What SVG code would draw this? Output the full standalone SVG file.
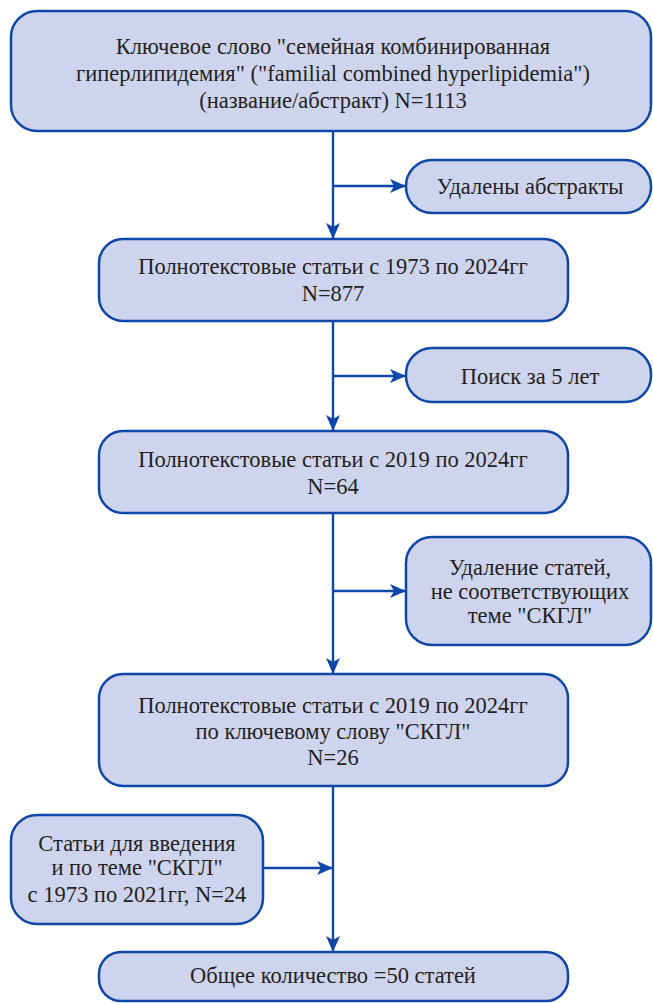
<svg xmlns="http://www.w3.org/2000/svg" width="653" height="1003" viewBox="0 0 653 1003">
  <style>
    .box { fill: #cfd4ee; stroke: #0d47a8; stroke-width: 2.5; }
    .lbl { font-family: "Liberation Serif", "Times New Roman", serif; font-size: 22.5px; fill: #231f20; text-anchor: middle; }
    .conn { stroke: #0d47a8; stroke-width: 2.4; fill: none; }
  </style>
  <defs>
    <marker id="arrow" viewBox="0 0 16 14" refX="16" refY="7" markerWidth="16" markerHeight="14" markerUnits="userSpaceOnUse" orient="auto">
      <path d="M0,0 L16,7 L0,14 L4,7 Z" fill="#0d47a8"/>
    </marker>
  </defs>

  <g id="connectors">
    <line class="conn" x1="333" y1="131" x2="333" y2="239" marker-end="url(#arrow)"/>
    <line class="conn" x1="333" y1="186" x2="406" y2="186" marker-end="url(#arrow)"/>
    <line class="conn" x1="333" y1="321" x2="333" y2="431" marker-end="url(#arrow)"/>
    <line class="conn" x1="333" y1="376" x2="406" y2="376" marker-end="url(#arrow)"/>
    <line class="conn" x1="333" y1="513" x2="333" y2="674" marker-end="url(#arrow)"/>
    <line class="conn" x1="333" y1="591" x2="406" y2="591" marker-end="url(#arrow)"/>
    <line class="conn" x1="333" y1="786" x2="333" y2="952" marker-end="url(#arrow)"/>
    <line class="conn" x1="263" y1="868" x2="333" y2="868" marker-end="url(#arrow)"/>
  </g>

  <g id="node-keyword">
    <rect class="box" x="11" y="11" width="640" height="120" rx="26"/>
    <text class="lbl" x="333" y="54">Ключевое слово "семейная комбинированная</text>
    <text class="lbl" x="333" y="81">гиперлипидемия" ("familial combined hyperlipidemia")</text>
    <text class="lbl" x="333" y="108">(название/абстракт) N=1113</text>
  </g>

  <g id="node-abstracts-removed">
    <rect class="box" x="406" y="160" width="245" height="53" rx="26"/>
    <text class="lbl" x="530" y="194">Удалены абстракты</text>
  </g>

  <g id="node-fulltext-1973">
    <rect class="box" x="99" y="239" width="469" height="82" rx="24"/>
    <text class="lbl" x="333" y="274">Полнотекстовые статьи с 1973 по 2024гг</text>
    <text class="lbl" x="333" y="301">N=877</text>
  </g>

  <g id="node-five-years">
    <rect class="box" x="406" y="348" width="245" height="54" rx="26"/>
    <text class="lbl" x="530" y="384">Поиск за 5 лет</text>
  </g>

  <g id="node-fulltext-2019">
    <rect class="box" x="99" y="431" width="469" height="82" rx="24"/>
    <text class="lbl" x="333" y="467">Полнотекстовые статьи с 2019 по 2024гг</text>
    <text class="lbl" x="333" y="494">N=64</text>
  </g>

  <g id="node-off-topic-removed">
    <rect class="box" x="406" y="537" width="245" height="108" rx="26"/>
    <text class="lbl" x="530" y="575">Удаление статей,</text>
    <text class="lbl" x="530" y="599">не соответствующих</text>
    <text class="lbl" x="530" y="623">теме "СКГЛ"</text>
  </g>

  <g id="node-skgl">
    <rect class="box" x="99" y="674" width="469" height="112" rx="24"/>
    <text class="lbl" x="333" y="713">Полнотекстовые статьи с 2019 по 2024гг</text>
    <text class="lbl" x="333" y="739">по ключевому слову "СКГЛ"</text>
    <text class="lbl" x="333" y="765">N=26</text>
  </g>

  <g id="node-intro">
    <rect class="box" x="11" y="815" width="252" height="109" rx="26"/>
    <text class="lbl" x="137" y="851">Статьи для введения</text>
    <text class="lbl" x="137" y="875">и по теме "СКГЛ"</text>
    <text class="lbl" x="137" y="902">с 1973 по 2021гг, N=24</text>
  </g>

  <g id="node-total">
    <rect class="box" x="99" y="952" width="469" height="49" rx="22"/>
    <text class="lbl" x="333" y="983">Общее количество =50 статей</text>
  </g>
</svg>
